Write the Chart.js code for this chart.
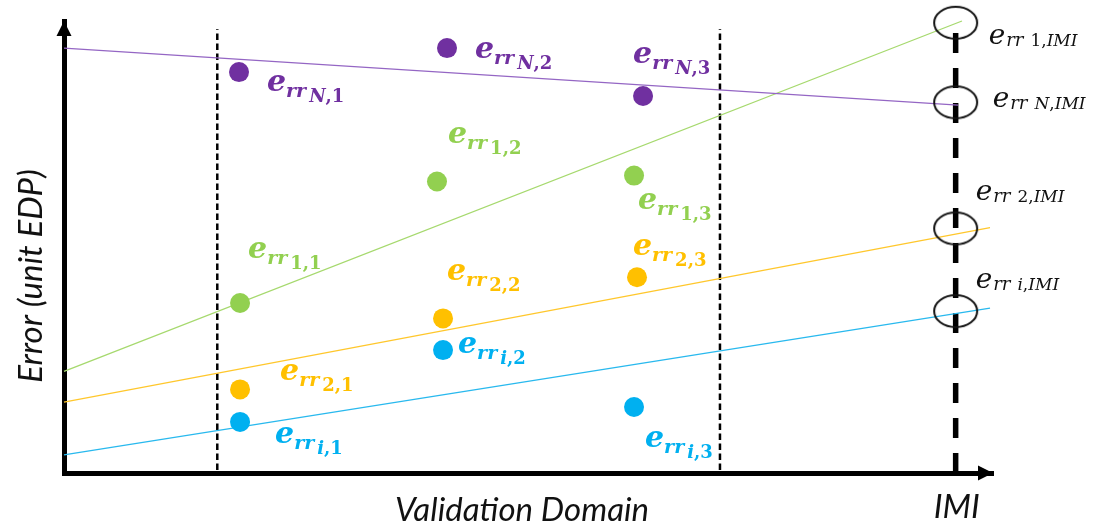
<!DOCTYPE html>
<html>
<head>
<meta charset="utf-8">
<script src="https://cdn.jsdelivr.net/npm/chart.js@4.4.1/dist/chart.umd.min.js"></script>
<style>
  html, body { margin: 0; padding: 0; background: #ffffff; }
  #wrap { width: 1094px; height: 528px; position: relative; }
</style>
</head>
<body>
<div id="wrap"><canvas id="c" width="1094" height="528"></canvas></div>
<script>
// Error samples inside the validation domain, one series per design point
const xN = [18.84, 41.23, 62.33];
const yN = [88.7, 94.0, 83.4];
const x1 = [18.95, 40.15, 61.36];
const y1 = [37.6, 64.5, 65.8];
const x2 = [18.95, 40.80, 61.68];
const y2 = [18.5, 34.2, 43.3];
const xI = [18.95, 40.80, 61.36];
const yI = [11.3, 27.2, 14.6];

// Fitted error trends, extrapolated towards the IMI
const trendXN = [0, 96.23];
const trendYN = [94.0, 81.4];
const trendX1 = [0, 96.66];
const trendY1 = [22.5, 100];
const trendX2 = [0, 99.68];
const trendY2 = [15.7, 54.3];
const trendXI = [0, 99.68];
const trendYI = [4.0, 36.5];

// Validation domain bounds and the IMI position
const domainEdges = [16.5, 70.61];
const domainSpan = [0.66, 98.2];
const imiX = 95.98;
const imiSpan = [0, 100];
const imiSeries = ['1', 'N', '2', 'i'];
const imiErr = [99.6, 82.0, 54.1, 35.8];

const colors = { N: '#7030A0', '1': '#92D050', '2': '#FFC000', i: '#00B0F0' };
const lineColors = { N: '#9466C4', '1': '#A6D96E', '2': '#FFC72C', i: '#29B9EE' };

const pts = (xs, ys) => xs.map((x, k) => ({ x, y: ys[k] }));

// Unfilled ellipse marker used at the IMI
function ellipseMarker(w, h) {
  const cv = document.createElement('canvas');
  cv.width = w + 4; cv.height = h + 4;
  const g = cv.getContext('2d');
  g.strokeStyle = '#111';
  g.lineWidth = 2;
  g.beginPath();
  g.ellipse(cv.width / 2, cv.height / 2, w / 2, h / 2, 0, 0, Math.PI * 2);
  g.stroke();
  return cv;
}
const ellipse = ellipseMarker(43, 32);

const sampleSets = [
  { key: 'N', data: pts(xN, yN) },
  { key: '1', data: pts(x1, y1) },
  { key: '2', data: pts(x2, y2) },
  { key: 'i', data: pts(xI, yI) }
];
const trendSets = [
  { key: 'N', data: pts(trendXN, trendYN) },
  { key: '1', data: pts(trendX1, trendY1) },
  { key: '2', data: pts(trendX2, trendY2) },
  { key: 'i', data: pts(trendXI, trendYI) }
];

const datasets = [];
sampleSets.forEach(s => datasets.push({
  type: 'scatter', label: 'samples ' + s.key, seriesKey: s.key, role: 'samples',
  data: s.data, pointRadius: 10, pointHoverRadius: 10,
  backgroundColor: colors[s.key], borderWidth: 0, clip: false
}));
datasets.push({
  type: 'scatter', label: 'IMI', role: 'imi', data: imiErr.map(v => ({ x: imiX, y: v })),
  pointStyle: ellipse, pointRadius: 20, clip: false
});
trendSets.forEach(s => datasets.push({
  type: 'line', label: 'trend ' + s.key, data: s.data, borderColor: lineColors[s.key],
  borderWidth: 1.3, pointRadius: 0, fill: false, clip: false
}));
domainEdges.forEach(xe => datasets.push({
  type: 'line', label: 'domain', data: domainSpan.map(v => ({ x: xe, y: v })),
  borderColor: '#000', borderWidth: 2.5, borderDash: [6.5, 3.5], borderCapStyle: 'butt',
  pointRadius: 0, clip: false
}));
datasets.push({
  type: 'line', label: 'IMI line', data: imiSpan.map(v => ({ x: imiX, y: v })),
  borderColor: '#000', borderWidth: 5.5, borderDash: [20, 15], borderCapStyle: 'butt',
  pointRadius: 0, clip: false
});

// Draws e_{rr sub} with italic letters and upright digits/commas
function drawErr(ctx, x, y, sub, color, bold, sz) {
  const w = bold ? 'bold ' : '';
  const fam = '"DejaVu Serif", serif';
  ctx.fillStyle = color;
  ctx.textAlign = 'left';
  ctx.textBaseline = 'alphabetic';
  ctx.font = `italic ${w}${sz.e}px ${fam}`;
  ctx.fillText('e', x, y);
  let cx = x + ctx.measureText('e').width + sz.gap1;
  ctx.font = `italic ${w}${sz.rr}px ${fam}`;
  ctx.fillText('rr', cx, y + sz.rrDrop);
  cx += ctx.measureText('rr').width + sz.gap2;
  for (const ch of sub) {
    const upright = /[0-9,]/.test(ch);
    ctx.font = `${upright ? '' : 'italic '}${w}${sz.sub}px ${fam}`;
    ctx.fillText(ch, cx, y + sz.subDrop);
    cx += ctx.measureText(ch).width;
  }
}

const sampleSize = { e: 30, rr: 19, sub: 18, gap1: 0, gap2: 3, rrDrop: 6, subDrop: 11 };
const imiSize = { e: 28, rr: 18, sub: 17, gap1: 1, gap2: 7, rrDrop: 2, subDrop: 2 };

// label anchors relative to each marker: [dx, dy] to the baseline of "e"
const sampleOffsets = {
  N: [[28, 19], [28, 10], [-10, -33]],
  '1': [[8, -45], [11, -38], [4, 33]],
  '2': [[40, -9], [4, -38], [-4, -22]],
  i: [[35, 21], [15, 3], [11, 40]]
};
const imiOffsets = [[33, 21], [37, 5], [20, -28], [20, -23]];

const errLabels = {
  id: 'errLabels',
  afterDatasetsDraw(chart) {
    const ctx = chart.ctx;
    ctx.save();
    chart.data.datasets.forEach((ds, di) => {
      const meta = chart.getDatasetMeta(di);
      if (ds.role === 'samples') {
        meta.data.forEach((el, k) => {
          const off = sampleOffsets[ds.seriesKey][k];
          drawErr(ctx, el.x + off[0], el.y + off[1], ds.seriesKey + ',' + (k + 1),
                  colors[ds.seriesKey], true, sampleSize);
        });
      } else if (ds.role === 'imi') {
        meta.data.forEach((el, k) => {
          const off = imiOffsets[k];
          drawErr(ctx, el.x + off[0], el.y + off[1], imiSeries[k] + ',IMI', '#111', false, imiSize);
        });
      }
    });
    ctx.restore();
  }
};

// Arrow heads and axis captions
const axisDecor = {
  id: 'axisDecor',
  afterDraw(chart) {
    const ctx = chart.ctx;
    const a = chart.chartArea;
    const xs = chart.scales.x;
    ctx.save();
    ctx.fillStyle = '#000';
    ctx.beginPath();
    ctx.moveTo(a.left, a.top);
    ctx.lineTo(a.left - 7.5, a.top + 15);
    ctx.lineTo(a.left + 7.5, a.top + 15);
    ctx.closePath();
    ctx.fill();
    ctx.beginPath();
    ctx.moveTo(a.right, a.bottom);
    ctx.lineTo(a.right - 15, a.bottom - 7.5);
    ctx.lineTo(a.right - 15, a.bottom + 7.5);
    ctx.closePath();
    ctx.fill();

    ctx.fillStyle = '#111';
    ctx.font = 'italic 33px Lato, "Open Sans", sans-serif';
    ctx.textBaseline = 'alphabetic';
    ctx.textAlign = 'center';
    ctx.fillText('Validation Domain', 522, 521);
    ctx.fillText('IMI', xs.getPixelForValue(imiX) + 1, 518);
    ctx.translate(42, 276);
    ctx.rotate(-Math.PI / 2);
    ctx.fillText('Error (unit EDP)', 0, 0);
    ctx.restore();
  }
};

new Chart(document.getElementById('c'), {
  data: { datasets },
  options: {
    responsive: false,
    animation: false,
    devicePixelRatio: 1,
    layout: { padding: { left: 0, right: 101, top: 20, bottom: 0 } },
    plugins: { legend: { display: false }, tooltip: { enabled: false } },
    events: [],
    scales: {
      x: {
        type: 'linear', min: 0, max: 100,
        grid: { display: false, drawTicks: false },
        border: { display: true, color: '#000', width: 5 },
        ticks: { display: false },
        afterFit(scale) { scale.height = 55; }
      },
      y: {
        type: 'linear', min: 0, max: 100,
        grid: { display: false, drawTicks: false },
        border: { display: true, color: '#000', width: 5 },
        ticks: { display: false },
        afterFit(scale) { scale.width = 64; }
      }
    }
  },
  plugins: [errLabels, axisDecor]
});
</script>
</body>
</html>
